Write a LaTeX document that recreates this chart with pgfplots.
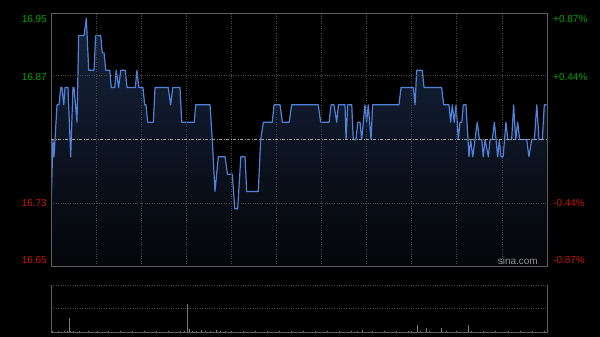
\documentclass[border=0pt]{standalone}
\usepackage{pgfplots}
\pgfplotsset{compat=1.18}
\usepackage{pgfplotstable}
\usepackage{fontspec}
\setmainfont{Liberation Sans}
\definecolor{upgreen}{RGB}{0,165,0}
\definecolor{downred}{RGB}{205,20,0}
\definecolor{linblue}{RGB}{80,130,218}
\definecolor{filltop}{RGB}{22,36,62}
\definecolor{fillbot}{RGB}{4,5,8}
\definecolor{gridc}{RGB}{72,72,72}
\definecolor{framec}{RGB}{95,95,95}
\definecolor{volc}{RGB}{120,120,120}

\pgfplotstableread{
t p
0 16.72
1.3 16.80
2 16.78
4 16.84
5.3 16.84
6.5 16.86
7.3 16.86
8.5 16.84
9.3 16.86
11.3 16.86
13.1 16.78
14.6 16.86
15.3 16.86
17.3 16.82
18.4 16.92
22 16.92
23.5 16.94
25.1 16.88
28.6 16.88
29.7 16.92
33.1 16.92
34.1 16.90
35.3 16.90
36.4 16.88
39.1 16.88
40.1 16.86
42.4 16.86
43.4 16.88
45 16.86
46.4 16.88
49.4 16.88
50.6 16.86
56.1 16.86
57.2 16.88
58.4 16.86
61.2 16.86
62.3 16.84
63.2 16.84
64.3 16.82
68.1 16.82
69.2 16.86
78 16.86
79.6 16.84
81 16.86
85.8 16.86
87 16.82
95.3 16.82
96.3 16.84
105.8 16.84
107.3 16.80
109.1 16.74
111.3 16.78
115.8 16.78
117.4 16.76
120.6 16.76
122.3 16.72
124.2 16.72
126.3 16.78
129.1 16.78
130.2 16.74
137.9 16.74
139.5 16.80
141.3 16.82
147.2 16.82
148.4 16.84
152.4 16.84
153.9 16.82
158.5 16.82
160.1 16.84
177.8 16.84
179.4 16.82
185 16.82
186.3 16.84
188.3 16.84
190.1 16.82
191.2 16.84
195.6 16.84
196.3 16.80
197.4 16.84
200.1 16.84
201.1 16.80
202.9 16.80
204.1 16.82
205.6 16.82
206.7 16.80
208.9 16.84
210 16.82
211.1 16.84
212.9 16.80
214 16.84
231.5 16.84
232.9 16.86
241.1 16.86
242.2 16.84
243.3 16.88
247 16.88
248.2 16.86
259.9 16.86
261.3 16.84
264.8 16.84
265.9 16.82
267 16.84
268.3 16.82
269.5 16.84
271 16.80
272.1 16.82
273.3 16.82
274.3 16.84
276.1 16.84
278.1 16.78
279.2 16.80
280.6 16.78
282.1 16.80
283.6 16.82
285 16.80
286.6 16.80
287.6 16.78
288.8 16.80
291 16.78
292.1 16.80
293.6 16.80
295 16.82
297.2 16.78
298.3 16.80
299.4 16.78
300.8 16.78
302.7 16.82
303.9 16.80
306.5 16.80
307.8 16.84
309.2 16.80
310.5 16.82
311.8 16.80
316.5 16.80
318 16.78
319.8 16.80
321.6 16.80
323.2 16.84
324.7 16.80
326.9 16.80
328.2 16.84
329.8 16.84
}\price

\pgfplotstableread{
t v
0 7
1 2
3 1
5 2
7 1
9 2
11 3
12 30
13 3
15 2
17 1
19 3
22 1
25 2
28 1
31 2
35 1
38 2
42 1
46 2
50 1
54 2
58 1
62 2
66 1
70 2
74 1
78 2
82 1
86 2
89 3
91 60
92 6
94 3
97 2
100 5
103 2
106 2
110 5
113 2
116 3
120 2
124 1
128 2
132 1
136 2
140 1
144 2
148 1
152 2
156 1
160 2
164 1
168 2
172 1
176 2
180 1
184 2
188 1
192 2
196 1
200 2
204 2
207 4
210 1
214 2
218 1
222 2
226 1
230 2
234 1
238 2
240 3
244 15
246 2
249.5 8
252 2
256 1
260 8
263 2
266 1
270 2
274 1
277.4 15
280 2
284 1
288 2
292 1
296 2
300 1
304 2
308 1
312 2
316 1
320 2
324 1
328 2
}\volume

\begin{document}
\begin{tikzpicture}[x=1pt,y=1pt]
\fill[black] (0,0) rectangle (600,337);
\begin{axis}[name=main, at={(51pt,71pt)}, anchor=south west,
  width=496pt, height=253pt, scale only axis,
  xmin=0, xmax=330, ymin=16.654, ymax=16.946,
  xtick={30,60,...,300}, ytick={16.726,16.874},
  xticklabels={}, yticklabels={}, major tick length=0pt,
  xmajorgrids, ymajorgrids,
  grid style={gridc, dotted, line width=0.7pt},
  extra y ticks={16.80}, extra y tick labels={},
  extra y tick style={grid style={gray!75, dash pattern=on 3pt off 1.5pt on 1pt off 1.5pt, line width=0.6pt}},
  axis line style={framec, line width=0.8pt},
  axis on top]
\addplot[draw=none, top color=filltop, bottom color=fillbot] table[x=t, y=p] {\price} |- (axis cs:0,16.654) -- cycle;
\addplot[linblue, line width=1.2pt, line join=round] table[x=t, y=p] {\price};
\end{axis}
\begin{axis}[name=vol, at={(51pt,5pt)}, anchor=south west,
  width=496pt, height=47pt, scale only axis,
  xmin=0, xmax=330, ymin=0, ymax=100,
  xtick=\empty, ytick={50,100}, yticklabels={}, major tick length=0pt,
  ymajorgrids, grid style={gridc, dotted, line width=0.7pt},
  axis line style={draw=none}]
\addplot[ycomb, volc, line width=0.8pt] table[x=t, y=v] {\volume};
\end{axis}
\draw[framec, line width=0.8pt] (vol.north west) -- (vol.south west) -- (vol.south east) -- (vol.north east);
\begin{scope}[every node/.style={font=\fontsize{10}{12}\selectfont, inner sep=0pt}]
\node[anchor=east, text=upgreen] at (47,318) {16.95};
\node[anchor=east, text=upgreen] at (47,260) {16.87};
\node[anchor=east, text=downred] at (47,134) {16.73};
\node[anchor=east, text=downred] at (47,77) {16.65};
\node[anchor=west, text=upgreen] at (553,318) {+0.87\%};
\node[anchor=west, text=upgreen] at (553,260) {+0.44\%};
\node[anchor=west, text=downred] at (553,134) {-0.44\%};
\node[anchor=west, text=downred] at (553,77) {-0.87\%};
\node[anchor=east, text=gray!85] at (538,76) {sina.com};
\end{scope}
\end{tikzpicture}
\end{document}
